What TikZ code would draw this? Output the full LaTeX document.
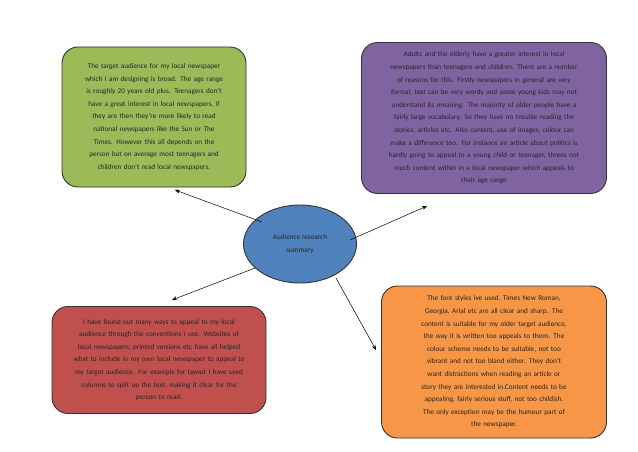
\documentclass[tikz,border=0pt]{standalone}
\usepackage{fontspec}
\setmainfont{Carlito}
\usetikzlibrary{shapes.geometric,arrows.meta}
\begin{document}
\begin{tikzpicture}[x=1pt,y=-1pt,
  box/.style={draw=black!80,line width=0.9pt,rounded corners=16pt,inner sep=4pt,align=center,text=black!85,font=\fontsize{7.2}{12.6}\selectfont},
  arr/.style={-{Stealth[length=5pt,width=4pt]},line width=0.5pt}]
\useasboundingbox (0,0) rectangle (638,452);
\node[box,fill={rgb,255:red,155;green,187;blue,89},minimum width=184pt,minimum height=140pt,text width=172pt] (g) at (154,117) {The target audience for my local newspaper\\which I am designing is broad. The age range\\is roughly 20 years old plus. Teenagers don't\\have a great interest in local newspapers, if\\they are then they're more likely to read\\national newspapers like the Sun or The\\Times. However this all depends on the\\person but on average most teenagers and\\children don't read local newspapers.};
\node[box,fill={rgb,255:red,128;green,100;blue,162},minimum width=245pt,minimum height=151pt,text width=235pt] (p) at (484,118) {Adults and the elderly have a greater interest in local\\newspapers than teenagers and children. There are a number\\of reasons for this. Firstly newspapers in general are very\\formal, text can be very wordy and some young kids may not\\understand its meaning. The majority of older people have a\\fairly large vocabulary. So they have no trouble reading the\\stories, articles etc. Also content, use of images, colour can\\make a difference too. For instance an article about politics is\\hardly going to appeal to a young child or teenager, threes not\\much content within in a local newspaper which appeals to\\their age range};
\node[box,fill={rgb,255:red,192;green,80;blue,77},minimum width=214pt,minimum height=107pt,text width=206pt] (r) at (159,360) {I have found out many ways to appeal to my local\\audience through the conventions I use. Websites of\\local newspapers, printed versions etc have all helped\\what to include in my own local newspaper to appeal to\\my target audience. For example for layout I have used\\columns to split up the text, making it clear for the\\person to read.};
\node[box,fill={rgb,255:red,247;green,150;blue,70},minimum width=225pt,minimum height=152pt,text width=215pt] (o) at (494,362) {The font styles ive used, Times New Roman,\\Georgia, Arial etc are all clear and sharp. The\\content is suitable for my older target audience,\\the way it is written too appeals to them. The\\colour scheme needs to be suitable, not too\\vibrant and not too bland either. They don't\\want distractions when reading an article or\\story they are interested in.Content needs to be\\appealing, fairly serious stuff, not too childish.\\The only exception may be the humour part of\\the newspaper.};
\node[ellipse,draw=black!80,line width=0.9pt,fill={rgb,255:red,79;green,129;blue,189},minimum width=113pt,minimum height=78pt,inner sep=0pt,align=center,text=black!85,font=\fontsize{7.2}{12.6}\selectfont] (e) at (300,244) {Audience research\\summary};
\coordinate (eg) at (262,222); \coordinate (tg) at (175,190);
\coordinate (ep) at (350,240); \coordinate (tp) at (427,206);
\coordinate (er) at (255,268); \coordinate (tr) at (172,300);
\coordinate (eo) at (336,278); \coordinate (to) at (376,350);
\draw[arr] (eg) -- (tg);
\draw[arr] (ep) -- (tp);
\draw[arr] (er) -- (tr);
\draw[arr] (eo) -- (to);
\end{tikzpicture}
\end{document}
